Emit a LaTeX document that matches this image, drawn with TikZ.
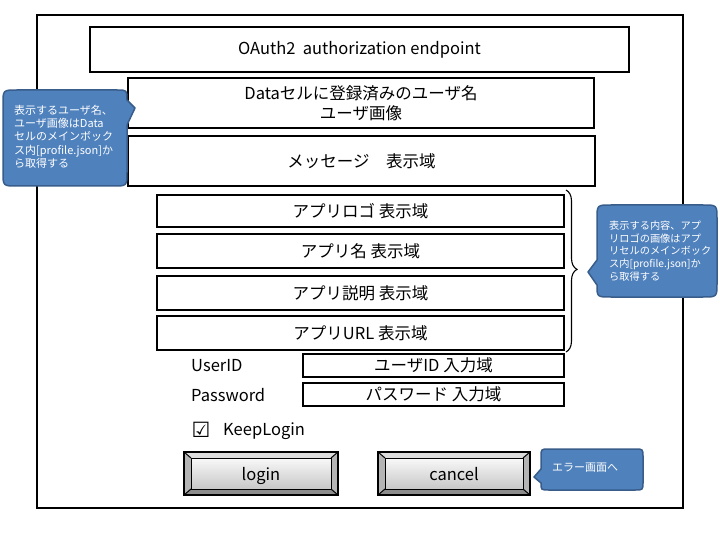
\documentclass[tikz,border=0pt]{standalone}
\usepackage{fontspec}
\setmainfont{Noto Sans CJK JP}
\newfontfamily\symfont{DejaVu Sans}
\usetikzlibrary{decorations.pathreplacing,calc}
\definecolor{calloutfill}{HTML}{4F81BD}
\definecolor{calloutdraw}{HTML}{385D8A}
\definecolor{bevtop}{HTML}{DCDCDC}
\definecolor{bevside}{HTML}{B4B4B4}
\definecolor{bevbot}{HTML}{8C8C8C}
\begin{document}
\begin{tikzpicture}[x=1pt,y=-1pt,
 box/.style={draw,line width=1.5pt,inner sep=0pt,font=\fontsize{16.5}{20}\selectfont,align=center},
 lbl/.style={inner sep=0pt,font=\fontsize{16.5}{20}\selectfont},
 callout/.style={fill=calloutfill,draw=calloutdraw,line width=1.5pt,line join=round},
 ctext/.style={text=white,align=left,inner sep=0pt,font=\fontsize{11}{13.2}\selectfont}]
\useasboundingbox (0,0) rectangle (720,540);
\fill[white] (0,0) rectangle (720,540);
% outer frame
\draw[line width=1.5pt] (37,15) rectangle (683,508);
% boxes
\node[box,minimum width=539pt,minimum height=45pt] (oauth) at (359.5,49.5) {OAuth2\ \ authorization endpoint};
\node[box,minimum width=466pt,minimum height=50pt] (data) at (361,103) {Dataセルに登録済みのユーザ名\\ユーザ画像};
\node[box,minimum width=467pt,minimum height=50pt] (msg) at (361.5,161) {メッセージ　表示域};
\node[box,minimum width=407pt,minimum height=32pt] (alogo) at (360.5,211) {アプリロゴ 表示域};
\node[box,minimum width=407pt,minimum height=34pt] (aname) at (360.5,251) {アプリ名 表示域};
\node[box,minimum width=407pt,minimum height=34pt] (adesc) at (360.5,293) {アプリ説明 表示域};
\node[box,minimum width=407pt,minimum height=34pt] (aurl) at (360.5,333) {アプリURL 表示域};
\node[box,minimum width=261pt,minimum height=23pt] (uid) at (433.5,365.5) {ユーザID 入力域};
\node[box,minimum width=261pt,minimum height=23pt] (pwd) at (433.5,394.5) {パスワード 入力域};
\node[lbl,anchor=west] (uidl) at (191,366) {UserID};
\node[lbl,anchor=west] (pwdl) at (191,395) {Password};
\node[inner sep=0pt,anchor=center,font=\fontsize{21}{24}\selectfont] (chk) at (201,430) {\symfont ☑};
\node[lbl,anchor=west] (keep) at (223,431) {KeepLogin};
% brace
\coordinate (btop) at (566,190);
\coordinate (bbot) at (566,352);
\draw[line width=1.1pt,decorate,decoration={brace,amplitude=11pt,aspect=0.49}] (btop) -- (bbot);
% buttons
\foreach \n/\t/\xa/\xb in {login/login/184/338,cancel/cancel/378/530}{
  \fill[bevside] (\xa,452) rectangle (\xb,495);
  \fill[bevtop] (\xa,452) -- (\xb,452) -- (\xb-7,458) -- (\xa+7,458) -- cycle;
  \fill[bevbot] (\xa,495) -- (\xb,495) -- (\xb-7,489) -- (\xa+7,489) -- cycle;
  \shade[top color=white!95!gray,bottom color=black!22] (\xa+7,458) rectangle (\xb-7,489);
  \draw[line width=1pt] (\xa+7,458) rectangle (\xb-7,489);
  \draw[line width=1pt] (\xa,452) -- (\xa+7,458) (\xb,452) -- (\xb-7,458)
     (\xa,495) -- (\xa+7,489) (\xb,495) -- (\xb-7,489);
  \draw[line width=1.6pt] (\xa,452) rectangle (\xb,495);
  \node[lbl,anchor=base] (\n) at ({(\xa+\xb)/2},480) {\t};
}
% left callout
\draw[callout] (17,90) -- (117,90) .. controls (127,90) .. (127,100) -- (135,108) -- (127,125)
  -- (127,172) .. controls (127,186) .. (113,186) -- (17,186) .. controls (3,186) .. (3,172)
  -- (3,104) .. controls (3,90) .. (17,90) -- cycle;
\node[ctext,anchor=north west] (lc) at (14,105) {表示するユーザ名、\\ユーザ画像はData\\セルのメインボック\\ス内[profile.json]か\\ら取得する};
% right callout
\draw[callout] (611,205) -- (703,205) .. controls (717,205) .. (717,219) -- (717,283)
  .. controls (717,297) .. (703,297) -- (611,297) .. controls (597,297) .. (597,285)
  -- (588,272) -- (597,260) -- (597,219) .. controls (597,205) .. (611,205) -- cycle;
\node[ctext,anchor=north west,font=\fontsize{10.2}{12.6}\selectfont] (rc) at (609,221) {表示する内容、アプ\\リロゴの画像はアプ\\リセルのメインボック\\ス内[profile.json]か\\ら取得する};
% error callout
\draw[callout] (549,449) -- (635,449) .. controls (643,449) .. (643,457) -- (643,482)
  .. controls (643,490) .. (635,490) -- (549,490) .. controls (541,490) .. (541,483)
  -- (534,477) -- (541,469) -- (541,457) .. controls (541,449) .. (549,449) -- cycle;
\node[ctext,anchor=west] (ec) at (552,468) {エラー画面へ};
\end{tikzpicture}
\end{document}
